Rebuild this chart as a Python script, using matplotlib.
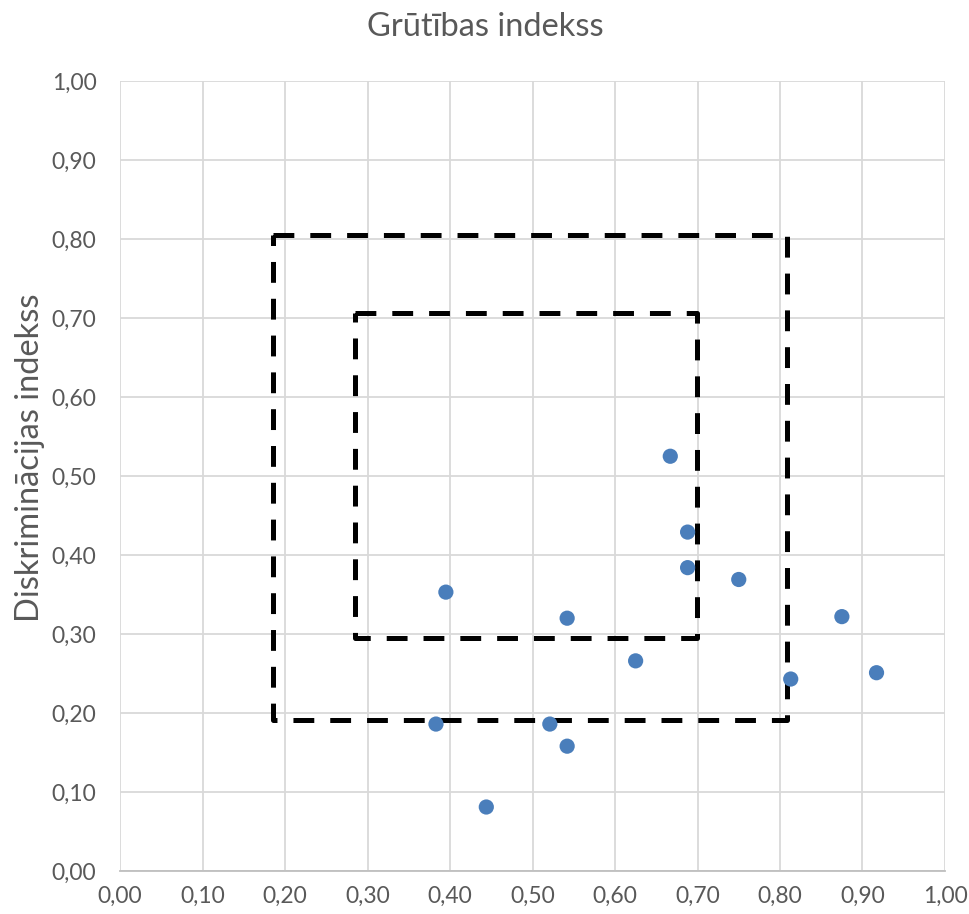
import matplotlib
matplotlib.use("Agg")
import matplotlib.pyplot as plt
from matplotlib.ticker import FuncFormatter, MultipleLocator

plt.rcParams['font.family'] = ['Lato', 'DejaVu Sans']
plt.rcParams['lines.scale_dashes'] = False

# Data
difficulty = [0.395, 0.383, 0.444, 0.521, 0.542, 0.542, 0.625, 0.667, 0.688, 0.688, 0.750, 0.813, 0.875, 0.917]
discrimination = [0.353, 0.186, 0.081, 0.186, 0.320, 0.158, 0.266, 0.525, 0.429, 0.384, 0.369, 0.243, 0.322, 0.251]

outer_box_x = [0.185, 0.808]
outer_box_y = [0.191, 0.805]
inner_box_x = [0.285, 0.700]
inner_box_y = [0.295, 0.706]

title = "Grūtības indekss"
ylabel = "Diskriminācijas indekss"

text_color = '#595959'
grid_color = '#d9d9d9'

fig = plt.figure(figsize=(9.70, 9.14), dpi=100)
ax = fig.add_axes([120/970, 1-871/914, 825/970, 790/914])

ax.set_xlim(0, 1)
ax.set_ylim(0, 1)
ax.xaxis.set_major_locator(MultipleLocator(0.1))
ax.yaxis.set_major_locator(MultipleLocator(0.1))
fmt = FuncFormatter(lambda v, p: f"{v:.2f}".replace('.', ','))
ax.xaxis.set_major_formatter(fmt)
ax.yaxis.set_major_formatter(fmt)
ax.grid(True, color=grid_color, linewidth=1.3, zorder=0)
for s in ['top', 'right', 'left']:
    ax.spines[s].set_visible(False)
ax.spines['bottom'].set_color('#bfbfbf')
ax.spines['bottom'].set_linewidth(1.3)
ax.tick_params(length=0, labelsize=16.5, colors=text_color)
ax.tick_params(axis='x', pad=11)
ax.tick_params(axis='y', pad=17)

def box(xs, ys):
    x0, x1 = xs
    y0, y1 = ys
    ax.plot([x0, x1, x1, x0, x0], [y1, y1, y0, y0, y1], color='black',
            linewidth=3.6, dashes=(15, 11.5), solid_joinstyle='miter',
            dash_capstyle='butt', zorder=3, clip_on=False)

box(outer_box_x, outer_box_y)
box(inner_box_x, inner_box_y)

ax.scatter(difficulty, discrimination, s=120, color='#4a7ebb', edgecolors='none', zorder=4)

fig.text(0.5, 1-27/914, title, ha='center', va='center', fontsize=23.5, color=text_color)
fig.text(30/970, 1-458/914, ylabel, ha='center', va='center', rotation=90, fontsize=23.5, color=text_color)

fig.savefig('out.png', dpi=100, facecolor='white')
